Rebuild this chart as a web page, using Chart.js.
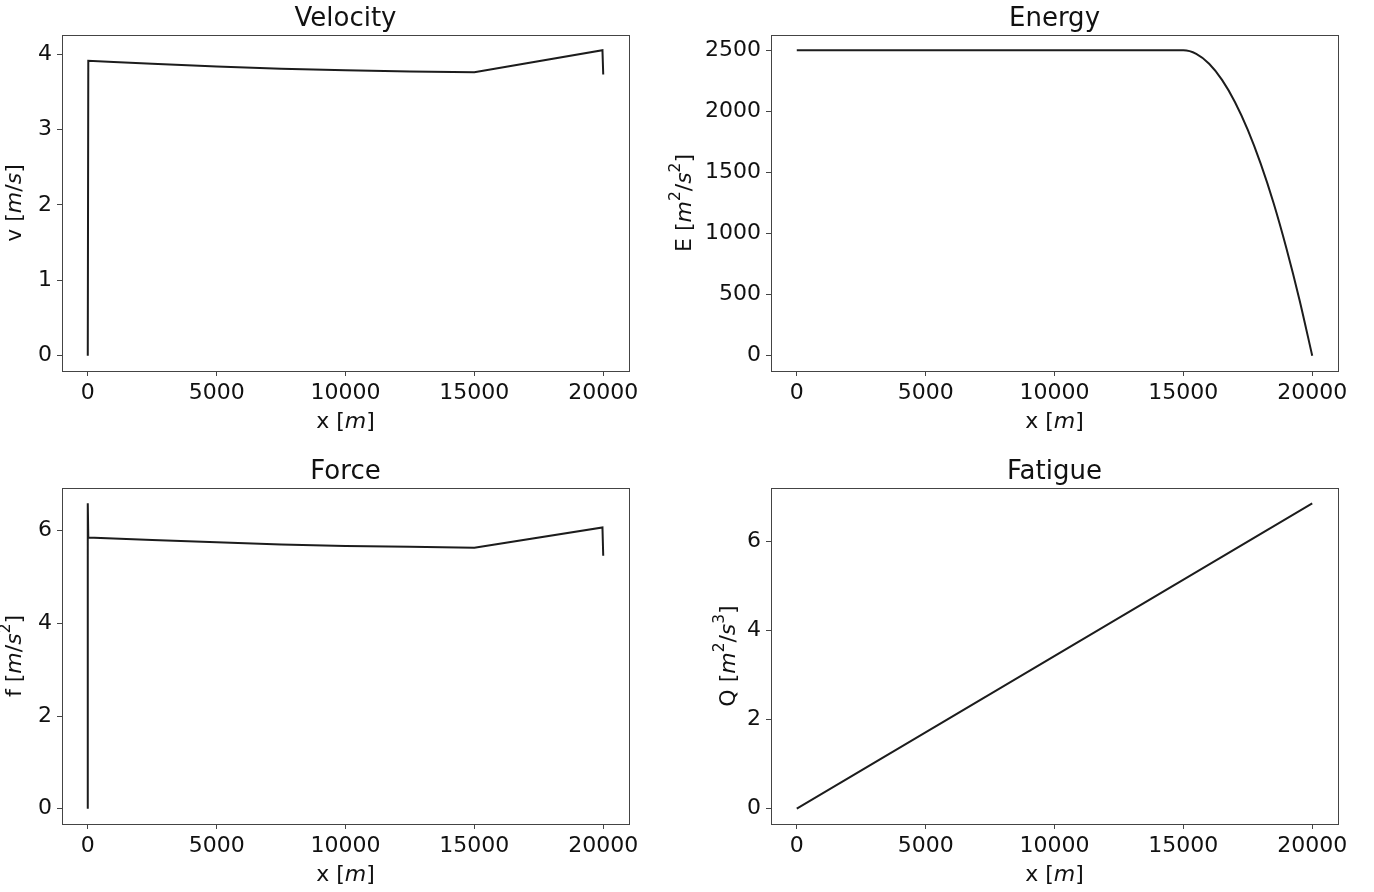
<!DOCTYPE html>
<html>
<head>
<meta charset="utf-8">
<script src="https://cdn.jsdelivr.net/npm/chart.js@4.4.0/dist/chart.umd.min.js"></script>
<style>
    html, body { margin: 0; padding: 0; background: #fff; }
    canvas { position: absolute; }
</style>
</head>
<body>
<canvas id="velocityChart" width="660" height="446" style="left:0;top:0"></canvas>
<canvas id="energyChart" width="714" height="446" style="left:660px;top:0"></canvas>
<canvas id="forceChart" width="660" height="446" style="left:0;top:446px"></canvas>
<canvas id="fatigueChart" width="714" height="446" style="left:660px;top:446px"></canvas>
<script>
// Data
const velocityX = [0, 20, 1000, 2500, 5000, 7500, 10000, 12500, 15000, 19970, 20000];
const velocityV = [0, 3.91, 3.895, 3.87, 3.835, 3.805, 3.785, 3.77, 3.76, 4.05, 3.73];

const energyX = [0, 5000, 10000, 15000, 15500, 16000, 16500, 17000, 17500, 18000, 18500, 19000, 19500, 20000];
const energyE = [2500, 2500, 2500, 2500, 2471, 2390, 2258, 2077, 1848, 1572, 1250, 878, 463, 0];

const forceX = [0, 0, 20, 1000, 2500, 5000, 7500, 10000, 12500, 15000, 19970, 20000];
const forceF = [0, 6.59, 5.85, 5.83, 5.80, 5.75, 5.70, 5.67, 5.65, 5.63, 6.07, 5.46];

const fatigueX = [0, 20000];
const fatigueQ = [0, 6.85];

const xTicks = [0, 5000, 10000, 15000, 20000];
const velocityTicks = [0, 1, 2, 3, 4];
const energyTicks = [0, 500, 1000, 1500, 2000, 2500];
const forceTicks = [0, 2, 4, 6];
const fatigueTicks = [0, 2, 4, 6];

const FONT = '"DejaVu Sans", sans-serif';
const TEXT = '#111';
const AXIS = '#444';

// axis labels with italic units and superscripts, like matplotlib mathtext
function drawParts(ctx, parts, size) {
    let total = 0;
    const items = parts.map(([t, s]) => {
        const sz = s === 'sup' ? size * 0.7 : size;
        const font = (s === 'i' ? 'italic ' : '') + sz + 'px ' + FONT;
        ctx.font = font;
        const w = ctx.measureText(t).width;
        total += w;
        return { t, font, w, dy: s === 'sup' ? -size * 0.4 : 0 };
    });
    let x = -total / 2;
    for (const it of items) {
        ctx.font = it.font;
        ctx.fillText(it.t, x, it.dy);
        x += it.w;
    }
}

const frameLabels = {
    id: 'frameLabels',
    afterDraw(chart, args, opts) {
        const { ctx, chartArea: a } = chart;
        ctx.save();
        ctx.strokeStyle = AXIS;
        ctx.lineWidth = 1;
        ctx.strokeRect(Math.round(a.left) + 0.5, Math.round(a.top) + 0.5, Math.round(a.right - a.left), Math.round(a.bottom - a.top));
        ctx.fillStyle = TEXT;
        ctx.textBaseline = 'middle';
        ctx.textAlign = 'left';
        ctx.save();
        ctx.translate((a.left + a.right) / 2, a.bottom + 51);
        drawParts(ctx, opts.xParts, 22);
        ctx.restore();
        ctx.save();
        ctx.translate(opts.yLabelX, (a.top + a.bottom) / 2);
        ctx.rotate(-Math.PI / 2);
        drawParts(ctx, opts.yParts, 22);
        ctx.restore();
        ctx.restore();
    }
};

const xParts = [['x [', ''], ['m', 'i'], [']', '']];

function makeChart(id, cfg) {
    const ctx = document.getElementById(id).getContext('2d');
    return new Chart(ctx, {
        type: 'line',
        data: {
            datasets: [{
                data: cfg.xs.map((x, i) => ({ x: x, y: cfg.ys[i] })),
                borderColor: '#1c1c1c',
                borderWidth: 2,
                pointRadius: 0,
                fill: false,
                tension: 0,
                cubicInterpolationMode: cfg.smooth ? 'monotone' : 'default'
            }]
        },
        options: {
            responsive: false,
            animation: false,
            devicePixelRatio: 1,
            layout: { padding: { left: 0, top: 0, bottom: 0, right: cfg.padRight } },
            plugins: {
                legend: { display: false },
                tooltip: { enabled: false },
                title: {
                    display: true,
                    text: cfg.title,
                    fullSize: false,
                    color: TEXT,
                    font: { family: FONT, size: 26, weight: 'normal' },
                    padding: { top: cfg.titleTop, bottom: cfg.titleBottom }
                },
                frameLabels: { xParts: xParts, yParts: cfg.yParts, yLabelX: cfg.yLabelX }
            },
            scales: {
                x: {
                    type: 'linear',
                    min: -1000,
                    max: 21000,
                    afterBuildTicks: s => { s.ticks = xTicks.map(v => ({ value: v })); },
                    afterFit: s => { s.height = cfg.xHeight; },
                    grid: { drawOnChartArea: false, drawTicks: true, tickLength: 5, color: AXIS },
                    border: { display: true, color: AXIS },
                    ticks: {
                        color: TEXT,
                        font: { family: FONT, size: 22 },
                        padding: 4,
                        maxRotation: 0,
                        autoSkip: false,
                        callback: v => String(v)
                    }
                },
                y: {
                    type: 'linear',
                    min: cfg.yMin,
                    max: cfg.yMax,
                    afterBuildTicks: s => { s.ticks = cfg.yTicks.map(v => ({ value: v })); },
                    afterFit: s => { s.width = cfg.yWidth; },
                    grid: { drawOnChartArea: false, drawTicks: true, tickLength: 5, color: AXIS },
                    border: { display: true, color: AXIS },
                    ticks: {
                        color: TEXT,
                        font: { family: FONT, size: 22 },
                        padding: 5,
                        autoSkip: false,
                        callback: v => String(v)
                    }
                }
            }
        },
        plugins: [frameLabels]
    });
}

makeChart('velocityChart', {
    title: 'Velocity', xs: velocityX, ys: velocityV, yTicks: velocityTicks,
    yMin: -0.2025, yMax: 4.2525,
    yParts: [['v [', ''], ['m', 'i'], ['/', ''], ['s', 'i'], [']', '']],
    yLabelX: 15, yWidth: 62, xHeight: 75, padRight: 31, titleTop: 3.5, titleBottom: 0.3
});

makeChart('energyChart', {
    title: 'Energy', xs: energyX, ys: energyE, yTicks: energyTicks, smooth: true,
    yMin: -125, yMax: 2625,
    yParts: [['E [', ''], ['m', 'i'], ['2', 'sup'], ['/', ''], ['s', 'i'], ['2', 'sup'], [']', '']],
    yLabelX: 25, yWidth: 111, xHeight: 75, padRight: 36, titleTop: 3.5, titleBottom: 0.3
});

makeChart('forceChart', {
    title: 'Force', xs: forceX, ys: forceF, yTicks: forceTicks,
    yMin: -0.33, yMax: 6.92,
    yParts: [['f [', ''], ['m', 'i'], ['/', ''], ['s', 'i'], ['2', 'sup'], [']', '']],
    yLabelX: 15, yWidth: 62, xHeight: 68, padRight: 31, titleTop: 10.5, titleBottom: 0.3
});

makeChart('fatigueChart', {
    title: 'Fatigue', xs: fatigueX, ys: fatigueQ, yTicks: fatigueTicks,
    yMin: -0.3425, yMax: 7.1925,
    yParts: [['Q [', ''], ['m', 'i'], ['2', 'sup'], ['/', ''], ['s', 'i'], ['3', 'sup'], [']', '']],
    yLabelX: 69, yWidth: 111, xHeight: 68, padRight: 36, titleTop: 10.5, titleBottom: 0.3
});
</script>
</body>
</html>
